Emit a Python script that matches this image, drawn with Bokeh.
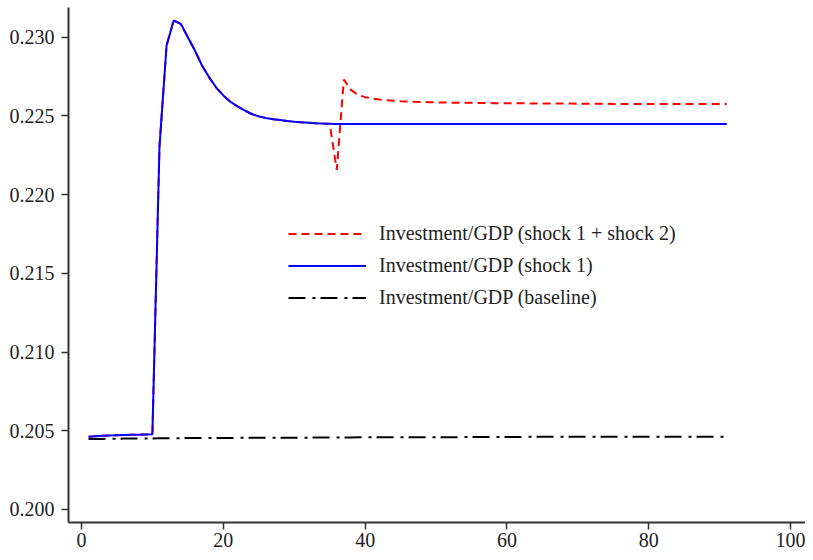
from bokeh.plotting import figure
from bokeh.models import Range1d, FixedTicker, NumeralTickFormatter
from bokeh.embed import file_html
from bokeh.resources import INLINE

periods = list(range(1, 92))

baseline = [
    0.20447, 0.20448, 0.20448, 0.20449, 0.20449, 0.20450, 0.20450, 0.20451, 0.20451, 0.20451,
    0.20452, 0.20452, 0.20452, 0.20453, 0.20453, 0.20453, 0.20453, 0.20454, 0.20454, 0.20454,
    0.20454, 0.20455, 0.20455, 0.20455, 0.20455, 0.20455, 0.20456, 0.20456, 0.20456, 0.20456,
    0.20456, 0.20456, 0.20457, 0.20457, 0.20457, 0.20457, 0.20457, 0.20457, 0.20458, 0.20458,
    0.20458, 0.20458, 0.20458, 0.20458, 0.20458, 0.20459, 0.20459, 0.20459, 0.20459, 0.20459,
    0.20459, 0.20459, 0.20459, 0.20460, 0.20460, 0.20460, 0.20460, 0.20460, 0.20460, 0.20460,
    0.20460, 0.20460, 0.20461, 0.20461, 0.20461, 0.20461, 0.20461, 0.20461, 0.20461, 0.20461,
    0.20461, 0.20461, 0.20461, 0.20461, 0.20462, 0.20462, 0.20462, 0.20462, 0.20462, 0.20462,
    0.20462, 0.20462, 0.20462, 0.20462, 0.20462, 0.20462, 0.20462, 0.20462, 0.20462, 0.20462,
    0.20462,
]

shock1 = [
    0.20462, 0.20465, 0.20468, 0.20470, 0.20472, 0.20473, 0.20474, 0.20475, 0.20476, 0.20477,
    0.22305, 0.22947, 0.23106, 0.23085, 0.23000, 0.22915, 0.22820, 0.22745, 0.22680, 0.22630,
    0.22590, 0.22560, 0.22535, 0.22512, 0.22497, 0.22487, 0.22479, 0.22474, 0.22468, 0.22463,
    0.22459, 0.22456, 0.22453, 0.22451, 0.22450, 0.22449, 0.22449, 0.22449, 0.22449, 0.22449,
    0.22449, 0.22449, 0.22449, 0.22449, 0.22449, 0.22449, 0.22449, 0.22449, 0.22449, 0.22449,
    0.22449, 0.22449, 0.22449, 0.22449, 0.22449, 0.22449, 0.22449, 0.22449, 0.22449, 0.22449,
    0.22449, 0.22449, 0.22449, 0.22449, 0.22449, 0.22449, 0.22449, 0.22449, 0.22449, 0.22449,
    0.22449, 0.22449, 0.22449, 0.22449, 0.22449, 0.22449, 0.22449, 0.22449, 0.22449, 0.22449,
    0.22449, 0.22449, 0.22449, 0.22449, 0.22449, 0.22449, 0.22449, 0.22449, 0.22449, 0.22449,
    0.22449,
]

shock12 = [
    0.20462, 0.20465, 0.20468, 0.20470, 0.20472, 0.20473, 0.20474, 0.20475, 0.20476, 0.20477,
    0.22305, 0.22947, 0.23106, 0.23085, 0.23000, 0.22915, 0.22820, 0.22745, 0.22680, 0.22630,
    0.22590, 0.22560, 0.22535, 0.22512, 0.22497, 0.22487, 0.22479, 0.22474, 0.22468, 0.22463,
    0.22459, 0.22456, 0.22453, 0.22451, 0.22450, 0.22157, 0.22730, 0.22665, 0.22633, 0.22619,
    0.22610, 0.22604, 0.22600, 0.22596, 0.22593, 0.22591, 0.22589, 0.22588, 0.22587, 0.22586,
    0.22585, 0.22584, 0.22584, 0.22583, 0.22583, 0.22582, 0.22582, 0.22581, 0.22581, 0.22580,
    0.22580, 0.22580, 0.22579, 0.22579, 0.22579, 0.22578, 0.22578, 0.22578, 0.22578, 0.22577,
    0.22577, 0.22577, 0.22577, 0.22577, 0.22576, 0.22576, 0.22576, 0.22576, 0.22576, 0.22576,
    0.22576, 0.22576, 0.22576, 0.22575, 0.22575, 0.22575, 0.22575, 0.22575, 0.22575, 0.22575,
    0.22575,
]

x_ticks = [0, 20, 40, 60, 80, 100]
y_ticks = [0.200, 0.205, 0.210, 0.215, 0.220, 0.225, 0.230]

labels = [
    "Investment/GDP (shock 1 + shock 2)",
    "Investment/GDP (shock 1)",
    "Investment/GDP (baseline)",
]

FONT = "Liberation Serif"

p = figure(
    width=805, height=552,
    x_range=Range1d(-1.83, 102.1), y_range=Range1d(0.19917, 0.231885),
    output_backend="svg", toolbar_location=None,
    min_border_left=68, min_border_right=0, min_border_top=7, min_border_bottom=30,
)
p.outline_line_color = None
p.grid.visible = False
p.background_fill_color = "white"
p.border_fill_color = "white"

p.line(periods, shock12, line_color="#ff0000", line_width=2, line_dash="8 5",
       legend_label=labels[0])
p.line(periods, shock1, line_color="#0000ff", line_width=2, legend_label=labels[1])
p.line(periods, baseline, line_color="black", line_width=2, line_dash="17 7 3 5",
       legend_label=labels[2])

for ax in (p.xaxis[0], p.yaxis[0]):
    ax.axis_line_color = "#333333"
    ax.axis_line_width = 2
    ax.major_tick_line_color = "#333333"
    ax.major_tick_line_width = 1.5
    ax.major_tick_in = 0
    ax.major_tick_out = 7
    ax.minor_tick_line_color = None
    ax.major_label_text_font = FONT
    ax.major_label_text_font_size = "20px"
    ax.major_label_text_color = "#222222"

p.yaxis[0].major_label_standoff = 7
p.xaxis[0].major_label_standoff = 3

p.xaxis[0].ticker = FixedTicker(ticks=x_ticks)
p.yaxis[0].ticker = FixedTicker(ticks=y_ticks)
p.yaxis[0].formatter = NumeralTickFormatter(format="0.000")

lg = p.legend[0]
lg.location = (220, 210)
lg.border_line_color = None
lg.background_fill_alpha = 0
lg.padding = 0
lg.margin = 0
lg.glyph_width = 78
lg.glyph_height = 29
lg.label_height = 29
lg.spacing = 3
lg.label_standoff = 13
lg.label_text_font = FONT
lg.label_text_font_size = "20px"
lg.label_text_color = "#222222"

open("out.html", "w").write(file_html(p, INLINE))
